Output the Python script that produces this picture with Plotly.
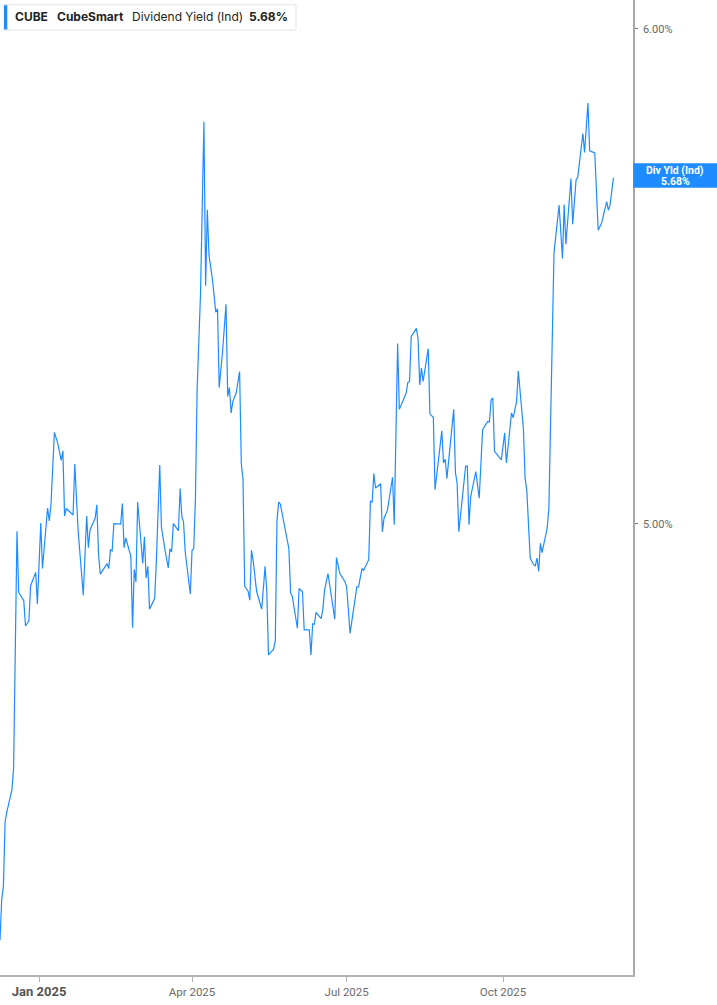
import plotly.graph_objects as go

dates = [
    "2024-12-09", "2024-12-10", "2024-12-11", "2024-12-12", "2024-12-13", "2024-12-16", "2024-12-17",
    "2024-12-19", "2024-12-20", "2024-12-23", "2024-12-24", "2024-12-26", "2024-12-27", "2024-12-30",
    "2024-12-31",
    "2025-01-02", "2025-01-03", "2025-01-06", "2025-01-07", "2025-01-08", "2025-01-10", "2025-01-12",
    "2025-01-14", "2025-01-15", "2025-01-16", "2025-01-17", "2025-01-21", "2025-01-22", "2025-01-24",
    "2025-01-27", "2025-01-29", "2025-01-30", "2025-01-31",
    "2025-02-03", "2025-02-04", "2025-02-05", "2025-02-06", "2025-02-10", "2025-02-11", "2025-02-12",
    "2025-02-13", "2025-02-14", "2025-02-18", "2025-02-19", "2025-02-20", "2025-02-21", "2025-02-24",
    "2025-02-25", "2025-02-26", "2025-02-27", "2025-02-28",
    "2025-03-03", "2025-03-04", "2025-03-05", "2025-03-06", "2025-03-07", "2025-03-10", "2025-03-11",
    "2025-03-13", "2025-03-14", "2025-03-16", "2025-03-18", "2025-03-19", "2025-03-20", "2025-03-21",
    "2025-03-24", "2025-03-25", "2025-03-26", "2025-03-27", "2025-03-28", "2025-03-31",
    "2025-04-01", "2025-04-02", "2025-04-03", "2025-04-04", "2025-04-06", "2025-04-08", "2025-04-09",
    "2025-04-10", "2025-04-11", "2025-04-13", "2025-04-15", "2025-04-16", "2025-04-17", "2025-04-19",
    "2025-04-20", "2025-04-21", "2025-04-22", "2025-04-23", "2025-04-24", "2025-04-25", "2025-04-27",
    "2025-04-29", "2025-04-30",
    "2025-05-01", "2025-05-02", "2025-05-04", "2025-05-05", "2025-05-06", "2025-05-07", "2025-05-09",
    "2025-05-12", "2025-05-14", "2025-05-15", "2025-05-16", "2025-05-19", "2025-05-20", "2025-05-21",
    "2025-05-22", "2025-05-23", "2025-05-27", "2025-05-28", "2025-05-29", "2025-05-30",
    "2025-06-02", "2025-06-03", "2025-06-05", "2025-06-06", "2025-06-09", "2025-06-10", "2025-06-11",
    "2025-06-12", "2025-06-13", "2025-06-16", "2025-06-17", "2025-06-18", "2025-06-20", "2025-06-24",
    "2025-06-25", "2025-06-27", "2025-06-30",
    "2025-07-01", "2025-07-03", "2025-07-07", "2025-07-08", "2025-07-10", "2025-07-11", "2025-07-14",
    "2025-07-15", "2025-07-16", "2025-07-17", "2025-07-18", "2025-07-21", "2025-07-22", "2025-07-23",
    "2025-07-25", "2025-07-28", "2025-07-29", "2025-07-31",
    "2025-08-01", "2025-08-05", "2025-08-06", "2025-08-07", "2025-08-08", "2025-08-11", "2025-08-12",
    "2025-08-13", "2025-08-14", "2025-08-15", "2025-08-18", "2025-08-19", "2025-08-21", "2025-08-22",
    "2025-08-26", "2025-08-27", "2025-08-28", "2025-08-29",
    "2025-09-02", "2025-09-03", "2025-09-04", "2025-09-05", "2025-09-09", "2025-09-10", "2025-09-11",
    "2025-09-12", "2025-09-15", "2025-09-17", "2025-09-19", "2025-09-22", "2025-09-23", "2025-09-24",
    "2025-09-25", "2025-09-26", "2025-09-30",
    "2025-10-02", "2025-10-03", "2025-10-06", "2025-10-07", "2025-10-09", "2025-10-10", "2025-10-13",
    "2025-10-14", "2025-10-15", "2025-10-17", "2025-10-19", "2025-10-20", "2025-10-21", "2025-10-22",
    "2025-10-23", "2025-10-24", "2025-10-27", "2025-10-28", "2025-10-31",
    "2025-11-03", "2025-11-05", "2025-11-06", "2025-11-07", "2025-11-10", "2025-11-11", "2025-11-13",
    "2025-11-14", "2025-11-17", "2025-11-18", "2025-11-20", "2025-11-21", "2025-11-24", "2025-11-26",
    "2025-11-28",
    "2025-12-01", "2025-12-02", "2025-12-03", "2025-12-05",
]

div_yield = [
    4.289, 4.353, 4.375, 4.480, 4.496, 4.533, 4.569,
    4.986, 4.875, 4.860, 4.815, 4.824, 4.887, 4.911,
    4.854,
    5.001, 4.918, 5.029, 5.005, 5.035, 5.171, 5.150,
    5.118, 5.136, 5.014, 5.028, 5.016, 5.111, 4.986,
    4.870, 5.014, 4.956, 4.989,
    5.010, 5.035, 4.943, 4.908, 4.927, 4.918, 4.952,
    4.950, 5.000, 4.999, 5.037, 4.956, 4.974, 4.940,
    4.812, 4.916, 4.894, 5.040,
    4.927, 4.976, 4.901, 4.922, 4.845, 4.864, 4.930,
    5.109, 4.993, 4.954, 4.919, 4.954, 4.948, 5.000,
    4.987, 5.065, 5.013, 5.003, 4.948, 4.872,
    4.951, 4.954, 5.045, 5.253, 5.442, 5.798, 5.458,
    5.613, 5.520, 5.471, 5.405, 5.412, 5.257, 5.329,
    5.373, 5.421, 5.240, 5.257, 5.208, 5.230, 5.247,
    5.288, 5.112,
    5.082, 4.886, 4.877, 4.861, 4.951, 4.932, 4.877,
    4.845, 4.922, 4.877, 4.764, 4.774, 4.789, 5.006,
    5.040, 5.036, 4.970, 4.954, 4.874, 4.868,
    4.811, 4.882, 4.876, 4.808, 4.808, 4.764, 4.819,
    4.818, 4.839, 4.828, 4.845, 4.879, 4.909, 4.827,
    4.938, 4.909, 4.894,
    4.885, 4.802, 4.885, 4.885, 4.918, 4.915, 4.934,
    5.042, 5.040, 5.093, 5.066, 5.074, 4.985, 5.010,
    5.025, 5.086, 4.998, 5.343,
    5.215, 5.246, 5.267, 5.269, 5.357, 5.373, 5.353,
    5.262, 5.295, 5.269, 5.333, 5.206, 5.200, 5.063,
    5.174, 5.113, 5.120, 5.084,
    5.215, 5.095, 5.075, 4.985, 5.107, 5.107, 4.998,
    5.050, 5.097, 5.047, 5.176, 5.192, 5.191, 5.233,
    5.237, 5.135, 5.119,
    5.170, 5.113, 5.208, 5.199, 5.230, 5.289, 5.179,
    5.084, 5.062, 4.937, 4.925, 4.923, 4.937, 4.913,
    4.964, 4.947, 4.992, 5.028, 5.524,
    5.623, 5.513, 5.624, 5.542, 5.678, 5.583, 5.675,
    5.681, 5.773, 5.733, 5.838, 5.736, 5.732, 5.571,
    5.585,
    5.630, 5.612, 5.623, 5.680,
]

x_tick_vals = ["2025-01-01", "2025-04-01", "2025-07-01", "2025-10-01"]
x_tick_text = ["<span style='font-size:13px;font-weight:bold;color:#555'>Jan 2025</span>",
               "Apr 2025", "Jul 2025", "Oct 2025"]
y_tick_vals = [5.0, 6.0]
y_tick_text = ["5.00%", "6.00%"]

ticker = "CUBE"
company = "CubeSmart"
metric = "Dividend Yield (Ind)"
last_label = "5.68%"
badge_label = "Div Yld (Ind)"

LINE = "#1e8cff"
W, H = 717, 1005
ML, MR, MT, MB = 0, 84, 0, 30
PW, PH = W - ML - MR, H - MT - MB


def px(x):
    return x / PW


def py(y):
    return 1 - y / PH


fig = go.Figure()
fig.add_trace(go.Scatter(x=dates, y=div_yield, mode="lines",
                         line=dict(color=LINE, width=1.2), hoverinfo="skip",
                         showlegend=False))

shapes = [
    dict(type="rect", xref="paper", yref="paper", x0=px(4), x1=px(296), y0=py(30), y1=py(4.7),
         line=dict(color="#e4e4e4", width=1), fillcolor="white", layer="above"),
    dict(type="rect", xref="paper", yref="paper", x0=px(4), x1=px(7.3), y0=py(29.5), y1=py(5.2),
         line=dict(width=0), fillcolor=LINE, layer="above"),
    dict(type="rect", xref="paper", yref="paper", x0=px(633.2), x1=px(717), y0=py(187.7), y1=py(163.3),
         line=dict(width=0), fillcolor=LINE, layer="above"),
]

hdr_font = dict(family="Inter, Arial, sans-serif", size=12, color="#222")
annotations = [
    dict(text=f"<b>{ticker}</b>", x=px(13), y=py(16.7), xanchor="left", yanchor="middle",
         xref="paper", yref="paper", showarrow=False, font=hdr_font),
    dict(text=f"<b>{company}</b>", x=px(55), y=py(16.7), xanchor="left", yanchor="middle",
         xref="paper", yref="paper", showarrow=False, font=hdr_font),
    dict(text=metric, x=px(130), y=py(16.7), xanchor="left", yanchor="middle",
         xref="paper", yref="paper", showarrow=False, font=hdr_font),
    dict(text=f"<b>{last_label}</b>", x=px(247), y=py(16.7), xanchor="left", yanchor="middle",
         xref="paper", yref="paper", showarrow=False, font=hdr_font),
    dict(text=f"<b>{badge_label}</b>", x=px(675), y=py(171), xanchor="center", yanchor="middle",
         xref="paper", yref="paper", showarrow=False,
         font=dict(family="Roboto, Arial, sans-serif", size=10.5, color="white")),
    dict(text=f"<b>{last_label}</b>", x=px(675), y=py(181.5), xanchor="center", yanchor="middle",
         xref="paper", yref="paper", showarrow=False,
         font=dict(family="Roboto, Arial, sans-serif", size=10.5, color="white")),
]

fig.update_layout(
    template="none",
    width=W, height=H,
    margin=dict(l=ML, r=MR, t=MT, b=MB, pad=0),
    plot_bgcolor="white", paper_bgcolor="white",
    font=dict(family="Roboto, Arial, sans-serif", size=11, color="#666"),
    shapes=shapes,
    annotations=annotations,
    showlegend=False,
    xaxis=dict(
        type="date",
        range=["2024-12-09", "2025-12-16 12:00"],
        tickvals=x_tick_vals, ticktext=x_tick_text,
        showgrid=False, zeroline=False,
        showline=True, linecolor="#b3b3b3", linewidth=1.5,
        ticks="outside", ticklen=5, tickcolor="#b3b3b3", tickwidth=1,
        tickfont=dict(family="Roboto, Arial, sans-serif", size=11.5, color="#6b6b6b"),
        automargin=False, fixedrange=True,
    ),
    yaxis=dict(
        type="log", side="right",
        range=[0.62675, 0.78276],
        tickvals=y_tick_vals, ticktext=y_tick_text,
        showgrid=False, zeroline=False,
        showline=True, linecolor="#a8a8a8", linewidth=1.5,
        ticks="outside", ticklen=3, tickcolor="#777", tickwidth=1,
        ticklabelstandoff=3,
        tickfont=dict(family="Roboto, Arial, sans-serif", size=11, color="#666"),
        automargin=False, fixedrange=True,
    ),
)

fig.write_html(
    "out.html",
    config={"displayModeBar": False},
    post_script="document.body.style.margin='0';document.body.style.overflow='hidden';",
)
